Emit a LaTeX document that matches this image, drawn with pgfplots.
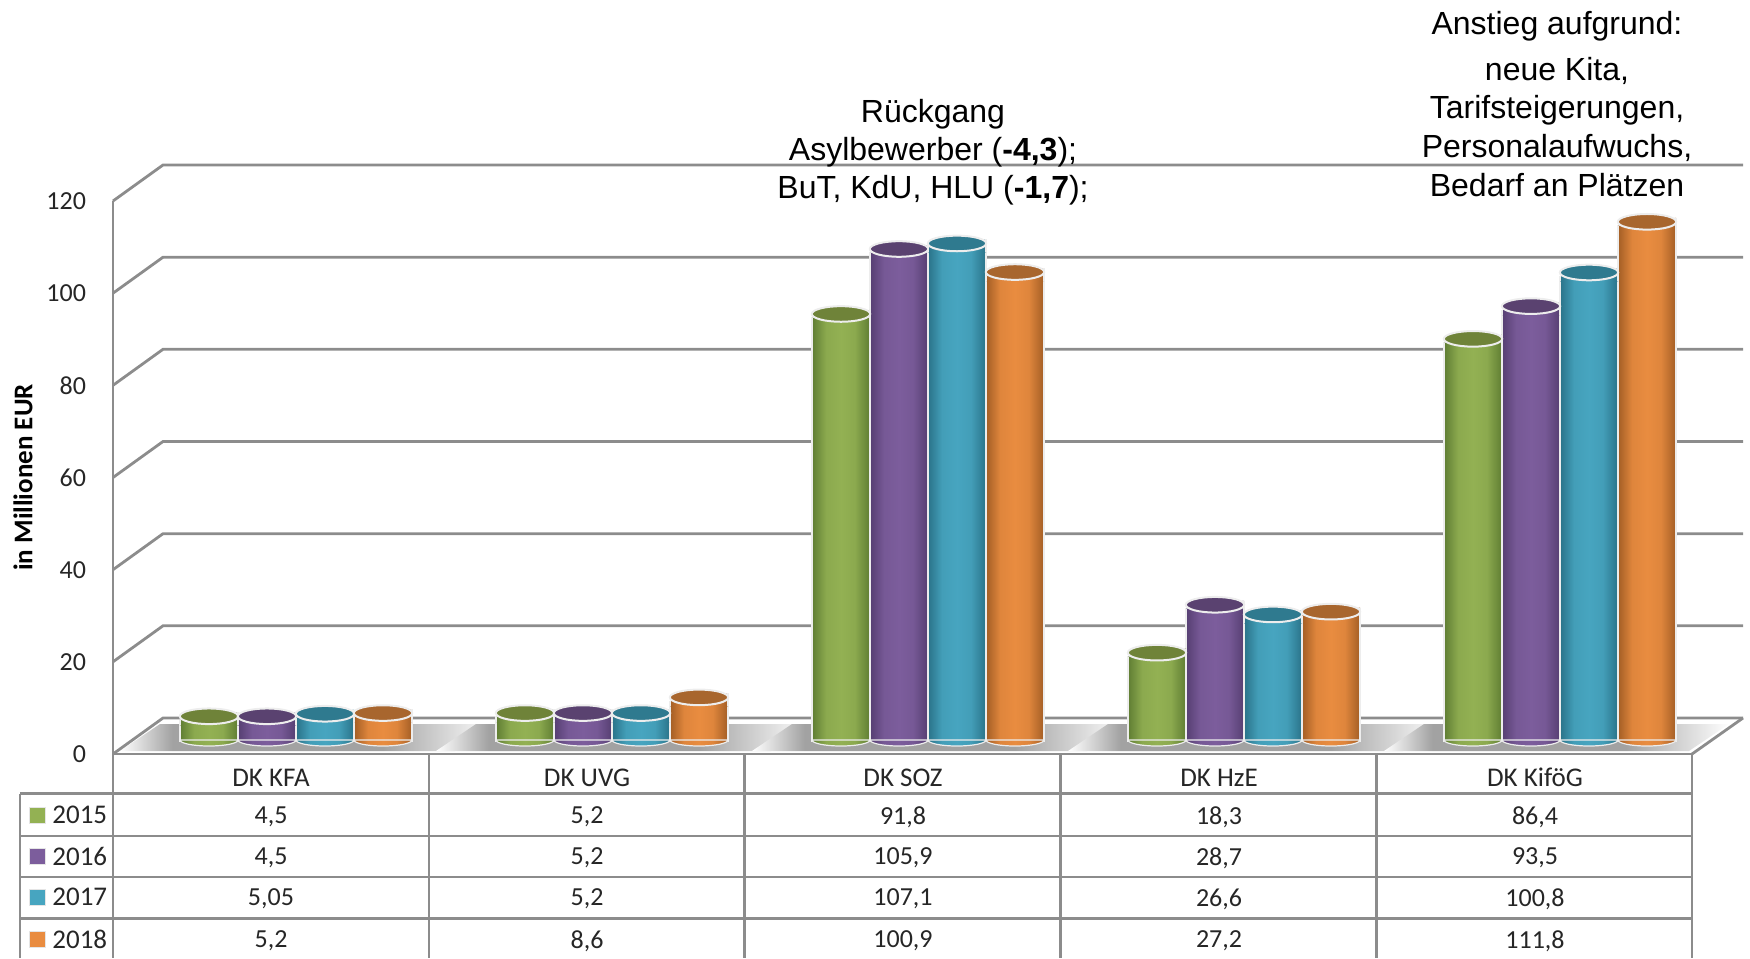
\documentclass[border=0pt]{standalone}
\usepackage{fontspec}
\setmainfont{Carlito}
\newfontfamily\arial{Liberation Sans}
\usepackage{pgfplots}
\usepackage{pgfplotstable}
\pgfplotsset{compat=1.18}

\definecolor{gridgray}{HTML}{8C8C8C}
\definecolor{floorgray}{HTML}{A2A2A2}
\definecolor{edge}{HTML}{EDEDED}
\definecolor{txt}{HTML}{262626}
% light body, dark body edge, top ellipse
\definecolor{ltgreen}{HTML}{93B153}\definecolor{dkgreen}{HTML}{5F7D33}\definecolor{topgreen}{HTML}{6F8339}
\definecolor{ltpurple}{HTML}{7C5D9C}\definecolor{dkpurple}{HTML}{563F72}\definecolor{toppurple}{HTML}{5A4270}
\definecolor{ltteal}{HTML}{47A5C0}\definecolor{dkteal}{HTML}{2A7389}\definecolor{topteal}{HTML}{2F7A8F}
\definecolor{ltorange}{HTML}{E98C40}\definecolor{dkorange}{HTML}{A35E25}\definecolor{toporange}{HTML}{A8662E}

\pgfdeclarehorizontalshading{floorsh}{100bp}{color(0bp)=(white); color(25bp)=(white); color(32bp)=(floorgray); color(60bp)=(floorgray); color(75bp)=(white); color(100bp)=(white)}

\newcommand\defcyl[1]{%
  \pgfdeclarehorizontalshading{body#1}{100bp}{color(0bp)=(dk#1); color(25bp)=(dk#1); color(37bp)=(lt#1!85!dk#1); color(50bp)=(lt#1); color(62bp)=(lt#1!85!dk#1); color(75bp)=(dk#1); color(100bp)=(dk#1)}%
  \pgfdeclareplotmark{top#1}{%
    \path[shading=body#1,draw=none] (-14.5pt,-2pt) -- (14.5pt,2pt) -- (14.5pt,-4.5pt) -- (-14.5pt,-4.5pt) -- cycle;
    \draw[edge,line width=.6pt] (-14.5pt,-2pt) -- (-14.5pt,-4.5pt) (14.5pt,2pt) -- (14.5pt,-4.5pt);
    \path[draw=edge,fill=top#1,line width=1pt,rotate=7] (0pt,0pt) ellipse (14.6pt and 3.9pt);
  }%
  \pgfdeclareplotmark{base#1}{%
    \path[shading=body#1,draw=edge,line width=.6pt,rotate=3] (-14.5pt,-1.5pt) arc[start angle=180,end angle=360,x radius=14.5pt,y radius=3pt] -- cycle;
  }%
}
\defcyl{green}\defcyl{purple}\defcyl{teal}\defcyl{orange}

\pgfplotstableread{
x y2015 y2016 y2017 y2018
0 4.5 4.5 5.05 5.2
1 5.2 5.2 5.2 8.6
2 91.8 105.9 107.1 100.9
3 18.3 28.7 26.6 27.2
4 86.4 93.5 100.8 111.8
}\dktable

% one cylinder series: colour, column, xshift; each bar its own plot so it gets its own shading
\newcommand\cylseries[3]{%
  \pgfplotsinvokeforeach{0,1,2,3,4}{%
    \addplot[ybar,bar width=29pt,bar shift=0pt,shading=body#1,draw=edge,line width=.6pt,xshift=#3,yshift=6.5pt,restrict x to domain=##1:##1] table[x=x,y=#2] {\dktable};
    \addplot[only marks,mark=base#1,xshift=#3,yshift=8.5pt,restrict x to domain=##1:##1] table[x=x,y expr=0] {\dktable};
    \addplot[only marks,mark=top#1,xshift=#3,yshift=8.5pt,restrict x to domain=##1:##1] table[x=x,y=#2] {\dktable};
  }%
}

\begin{document}
\begin{tikzpicture}
\path[use as bounding box] (0,0) rectangle (875pt,-479pt);

\begin{scope}[x=.5pt,y=-.5pt]
  % floor shadows, the last one stops short of the floor's right edge
  \foreach \c/\r in {295/160,611/160,927/160,1243/160,1559/130} {
    \path[shading=floorsh] ({\c-175},751) -- ({\c+\r},751) -- ({\c+\r+40},724) -- ({\c-135},724) -- cycle;
  }
  % walls and floor
  \foreach \y in {754,661.8,569.7,477.5,385.3,293.2,201} {
    \draw[gridgray,line width=1.4pt] (113,\y) -- (163,{\y-36}) -- (1743,{\y-36});
  }
  \draw[gridgray,line width=1.4pt] (1692,754) -- (1743,718);
\end{scope}

\begin{axis}[
    at={(56.5pt,-377pt)},anchor=south west,
    scale only axis,width=790pt,height=276.5pt,
    xmin=-0.5,xmax=4.5,ymin=0,ymax=120,
    axis x line*=bottom,axis y line*=left,
    axis line style={-,gridgray,line width=1.4pt},
    major tick length=0pt,
    xtick={0,1,2,3,4},
    xticklabels={DK KFA,DK UVG,DK SOZ,DK HzE,DK KiföG},
    xticklabel style={anchor=base,yshift=-16pt,font=\fontsize{13.5}{15}\selectfont,text=txt},
    ytick={0,20,...,120},
    yticklabel style={font=\fontsize{13}{15}\selectfont,text=txt,xshift=-10pt},
    /pgf/number format/assume math mode=true,
    ylabel={\bfseries in Millionen EUR},
    every axis y label/.style={at={(axis description cs:0,0.5)},rotate=90,anchor=center,yshift=45pt,font=\fontsize{13.5}{15}\selectfont,text=black},
    clip=false,
]
\cylseries{green}{y2015}{-31pt}
\cylseries{purple}{y2016}{-2pt}
\cylseries{teal}{y2017}{27pt}
\cylseries{orange}{y2018}{56pt}
\end{axis}

\begin{scope}[x=.5pt,y=-.5pt]
  % table lines
  \foreach \y in {793.5,836,877,918.5} \draw[gridgray,line width=1.4pt] (20,\y) -- (1692,\y);
  \draw[gridgray,line width=1.4pt] (20,793.5) -- (20,958);
  \foreach \x in {113,429,744.5,1060.5,1376.5,1692} \draw[gridgray,line width=1.4pt] (\x,754) -- (\x,958);
  % row keys and year labels
  \foreach \r/\yr/\col/\yy in {0/2015/green/815,1/2016/purple/856,2/2017/teal/897,3/2018/orange/939} {
    \path[fill=lt\col,draw=white!80!gray,line width=.5pt] (29,\yy-8) rectangle (45,\yy+8);
    \node[anchor=west,inner sep=0pt,text=txt,font=\fontsize{13.5}{15}\selectfont] at (52,\yy) {\yr};
  }
  % table values
  \pgfkeys{/pgf/number format/.cd,fixed,precision=2,use comma,assume math mode=true}
  \foreach \r/\yy in {0/817,1/858,2/899,3/941} {
    \foreach \c in {0,1,2,3,4} {
      \pgfmathtruncatemacro\colnum{\r+1}
      \pgfplotstablegetelem{\c}{[index]\colnum}\of\dktable
      \node[text=txt,inner sep=0pt,font=\fontsize{13}{15}\selectfont] at ({271+316*\c},\yy) {\pgfmathprintnumber{\pgfplotsretval}};
    }
  }
  % notes
  \begin{scope}[every node/.style={anchor=base,inner sep=0pt,font=\arial\fontsize{16}{18}\selectfont}]
    \node at (933,122) {Rückgang};
    \node at (933,160) {Asylbewerber (\textbf{-4,3});};
    \node at (933,198) {BuT, KdU, HLU (\textbf{-1,7});};
    \node at (1557,34) {Anstieg aufgrund:};
    \node at (1557,80) {neue Kita,};
    \node at (1557,118) {Tarifsteigerungen,};
    \node at (1557,157) {Personalaufwuchs,};
    \node at (1557,196) {Bedarf an Plätzen};
  \end{scope}
\end{scope}
\end{tikzpicture}
\end{document}
